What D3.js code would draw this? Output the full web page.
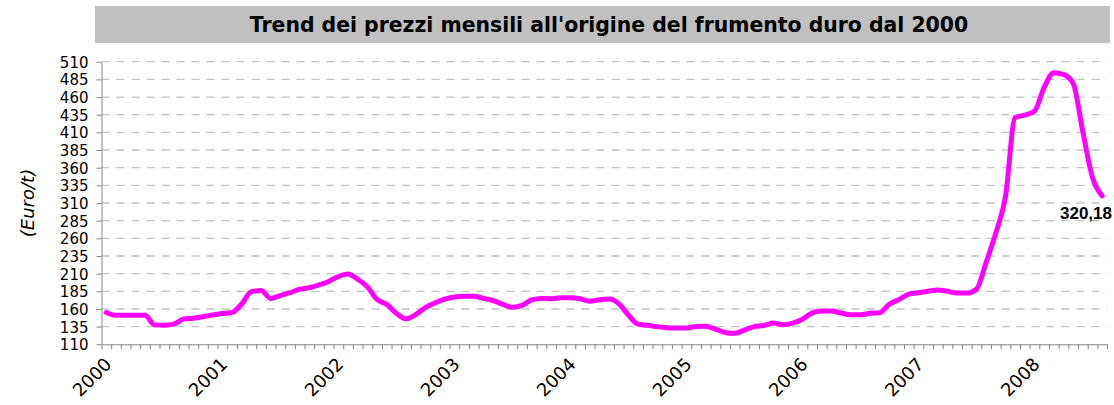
<!DOCTYPE html>
<html>
<head>
<meta charset="utf-8">
<script src="https://cdn.jsdelivr.net/npm/d3@7"></script>
<style>
	body { margin: 0; background: #fff; }
	svg { display: block; }
</style>
</head>
<body>
<svg id="chart"></svg>
<script>
const width = 1114,
	height = 405,
	margin = {
		top: 61.7,
		right: 7,
		bottom: 60.7,
		left: 101.5
	};

// prezzi mensili (Euro/t), gen 2000 - ago 2008
const prices = [
	155, 151, 151, 151, 151, 137.5, 137, 138.5, 146, 147, 149, 151.5,
	153.5, 155, 167, 184.5, 186, 175, 179, 183, 188, 190, 194, 199,
	206, 209.5, 202, 191.5, 173.5, 166.5, 154, 146, 152, 162, 168.5, 174,
	177, 178, 178, 175, 172, 166.5, 162.5, 165, 173, 175, 174.5, 176,
	176, 174.5, 171, 173, 174, 167.5, 151.5, 138.5, 137, 135, 133.5, 133,
	133, 135.3, 135.5, 131.5, 126.8, 125.5, 130, 135, 136.5, 140, 137.7, 140,
	145.5, 154.3, 157.3, 157, 154.2, 151.7, 151.7, 154, 154.7, 167, 173.5, 181,
	183, 185, 187, 185, 182.5, 182.5, 188, 226, 267.5, 319, 431, 434.5,
	440, 473.5, 494.5, 492, 479.3, 411, 346, 320.18
];

const years = ['2000', '2001', '2002', '2003', '2004', '2005', '2006', '2007', '2008'];
const yTicks = [110, 135, 160, 185, 210, 235, 260, 285, 310, 335, 360, 385, 410, 435, 460, 485, 510];
const lastLabel = '320,18';
const title = "Trend dei prezzi mensili all'origine del frumento duro dal 2000";
const yTitle = '(Euro/t)';

const plotW = width - margin.left - margin.right,
	plotH = height - margin.top - margin.bottom;

// month edges: 0..n, points sit in the middle of each month
const x = d3.scaleLinear()
	.domain([0, prices.length])
	.range([margin.left, margin.left + plotW]);

const y = d3.scaleLinear()
	.domain([110, 510])
	.range([margin.top + plotH, margin.top]);

const svg = d3.select('#chart')
	.attr('width', width)
	.attr('height', height)
	.style('font-family', 'DejaVu Sans, Verdana, sans-serif');

// title box
svg.append('rect')
	.attr('x', 95)
	.attr('y', 6)
	.attr('width', 1015)
	.attr('height', 37)
	.attr('fill', '#c0c0c0');

svg.append('text')
	.attr('x', 609)
	.attr('y', 32)
	.attr('text-anchor', 'middle')
	.style('font-weight', 'bold')
	.style('font-size', '20.4px')
	.text(title);

// dashed grid
svg.append('g')
	.selectAll('line')
	.data(yTicks.slice(1))
	.join('line')
	.attr('x1', margin.left)
	.attr('x2', margin.left + plotW)
	.attr('y1', d => y(d))
	.attr('y2', d => y(d))
	.attr('stroke', '#c4c4c4')
	.attr('stroke-width', 1.3)
	.attr('stroke-dasharray', '8,7');

// y axis
const yAxis = svg.append('g')
	.attr('transform', `translate(${margin.left},0)`)
	.call(d3.axisLeft(y).tickValues(yTicks).tickSize(5).tickSizeOuter(0).tickFormat(d3.format('d')));

yAxis.select('.domain').attr('stroke', '#868686');
yAxis.selectAll('.tick line').attr('stroke', '#868686');
yAxis.selectAll('.tick text')
	.attr('x', -13)
	.attr('dy', '0.36em')
	.style('font-family', 'DejaVu Sans, Verdana, sans-serif')
	.style('font-size', '15px')
	.attr('fill', '#000');

// x axis, one tick per month
const xAxis = svg.append('g')
	.attr('transform', `translate(0,${margin.top + plotH})`)
	.call(d3.axisBottom(x).tickValues(d3.range(0, prices.length + 1)).tickSize(5).tickSizeOuter(0).tickFormat(''));

xAxis.select('.domain').attr('stroke', '#868686');
xAxis.selectAll('.tick line').attr('stroke', '#868686');

svg.append('g')
	.selectAll('text')
	.data(years)
	.join('text')
	.attr('transform', (d, i) => `translate(${x(i * 12) + 2},${margin.top + plotH + 12}) rotate(-45)`)
	.attr('text-anchor', 'end')
	.attr('dy', '0.72em')
	.style('font-size', '18px')
	.text(d => d);

// y axis title
svg.append('text')
	.attr('transform', 'translate(34,203) rotate(-90)')
	.attr('text-anchor', 'middle')
	.style('font-style', 'italic')
	.style('font-size', '18px')
	.text(yTitle);

// price line
const line = d3.line()
	.x((d, i) => x(i + 0.5))
	.y(d => y(d))
	.curve(d3.curveMonotoneX);

svg.append('path')
	.datum(prices)
	.attr('fill', 'none')
	.attr('stroke', '#ff00ff')
	.attr('stroke-width', 5)
	.attr('stroke-linejoin', 'round')
	.attr('stroke-linecap', 'round')
	.attr('d', line);

// last value label
svg.append('text')
	.attr('x', 1112)
	.attr('y', 219)
	.attr('text-anchor', 'end')
	.style('font-family', 'Liberation Sans, Arial, sans-serif')
	.style('font-weight', 'bold')
	.style('font-size', '17px')
	.text(lastLabel);
</script>
</body>
</html>
